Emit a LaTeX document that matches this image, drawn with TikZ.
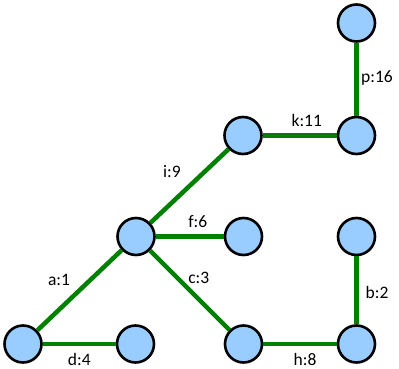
\documentclass[tikz,border=0pt]{standalone}
\usepackage{fontspec}
\setmainfont{Carlito}
\usetikzlibrary{calc,positioning}
\definecolor{vfill}{RGB}{153,204,255}
\definecolor{egreen}{RGB}{0,128,0}

\begin{document}
\begin{tikzpicture}[x=1bp, y=-1bp,
  vert/.style={circle, draw=black, line width=2.6bp, fill=vfill, minimum size=37bp, inner sep=0pt},
  edge/.style={draw=egreen, line width=4.5bp},
  lbl/.style={inner sep=0pt, font=\fontsize{17.5bp}{20bp}\selectfont}]
\useasboundingbox (0,0) rectangle (399,369);
% vertices
\node[vert] (top)  at (356.5,23)    {};
\node[vert] (kl)   at (243,135.5)   {};
\node[vert] (kr)   at (356.5,135.5) {};
\node[vert] (hub)  at (136,236.5)   {};
\node[vert] (fr)   at (243.5,236.5) {};
\node[vert] (bt)   at (356.5,236.5) {};
\node[vert] (bl)   at (23,344)      {};
\node[vert] (dr)   at (135.5,344)   {};
\node[vert] (hl)   at (243.5,344)   {};
\node[vert] (br)   at (356.5,344)   {};
% edges
\path[edge] (bl) -- node[lbl, xshift=-20.5bp, yshift=10bp] {a:1} (hub);
\path[edge] (bl) -- node[lbl, yshift=-15bp] {d:4} (dr);
\path[edge] (hub) -- node[lbl, xshift=9bp, yshift=12bp] {c:3} (hl);
\path[edge] (hl) -- node[lbl, xshift=5bp, yshift=-15bp] {h:8} (br);
\path[edge] (bt) -- node[lbl, xshift=20.5bp, yshift=-2bp] {b:2} (br);
\path[edge] (hub) -- node[lbl, xshift=8bp, yshift=14.5bp] {f:6} (fr);
\path[edge] (hub) -- node[lbl, xshift=-17.5bp, yshift=14bp] {i:9} (kl);
\path[edge] (kl) -- node[lbl, xshift=7bp, yshift=15.5bp] {k:11} (kr);
\path[edge] (top) -- node[lbl, xshift=20.5bp, yshift=1bp] {p:16} (kr);
\end{tikzpicture}
\end{document}
